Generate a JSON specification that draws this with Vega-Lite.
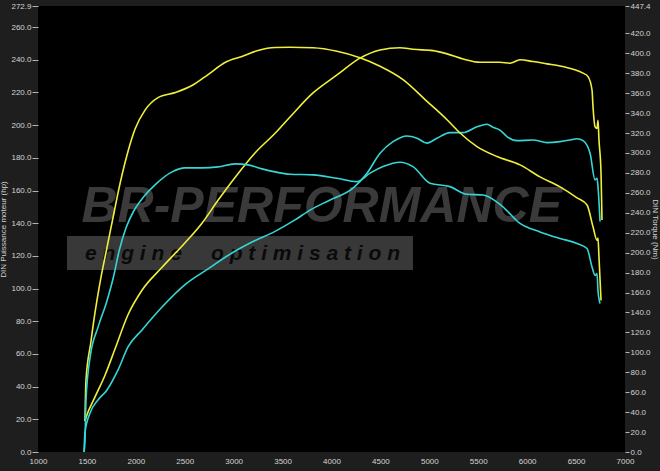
{
  "$schema": "https://vega.github.io/schema/vega-lite/v6.json",
  "width": 587,
  "height": 446,
  "autosize": {"type": "none"},
  "padding": {"left": 38, "top": 6, "right": 35, "bottom": 19},
  "background": "#1e1e1e",
  "config": {
    "view": {"fill": "#000000", "stroke": null},
    "font": "Liberation Sans",
    "axis": {
      "labelColor": "#d4d4d4",
      "titleColor": "#d4d4d4",
      "labelFontSize": 8,
      "titleFontSize": 8,
      "titleFontWeight": "normal",
      "gridColor": "#8a8a8a",
      "gridOpacity": 1,
      "gridWidth": 1,
      "tickColor": "#b4b4b4",
      "domain": false,
      "labelOverlap": false
    }
  },
  "datasets": {
    "power": [
      {"rpm": 1480, "hp": 19, "run": "Stage"},
      {"rpm": 1490, "hp": 21, "run": "Stage"},
      {"rpm": 1583, "hp": 33.7, "run": "Stage"},
      {"rpm": 1685, "hp": 47, "run": "Stage"},
      {"rpm": 1787, "hp": 63, "run": "Stage"},
      {"rpm": 1920, "hp": 84, "run": "Stage"},
      {"rpm": 2063, "hp": 99, "run": "Stage"},
      {"rpm": 2268, "hp": 113, "run": "Stage"},
      {"rpm": 2503, "hp": 128, "run": "Stage"},
      {"rpm": 2676, "hp": 140, "run": "Stage"},
      {"rpm": 2840, "hp": 154, "run": "Stage"},
      {"rpm": 3014, "hp": 168, "run": "Stage"},
      {"rpm": 3218, "hp": 183, "run": "Stage"},
      {"rpm": 3423, "hp": 195, "run": "Stage"},
      {"rpm": 3576, "hp": 205, "run": "Stage"},
      {"rpm": 3811, "hp": 219.7, "run": "Stage"},
      {"rpm": 4056, "hp": 230.7, "run": "Stage"},
      {"rpm": 4291, "hp": 241, "run": "Stage"},
      {"rpm": 4496, "hp": 246, "run": "Stage"},
      {"rpm": 4700, "hp": 247.4, "run": "Stage"},
      {"rpm": 4833, "hp": 246.4, "run": "Stage"},
      {"rpm": 5038, "hp": 245.6, "run": "Stage"},
      {"rpm": 5181, "hp": 243.6, "run": "Stage"},
      {"rpm": 5344, "hp": 240.5, "run": "Stage"},
      {"rpm": 5518, "hp": 238.5, "run": "Stage"},
      {"rpm": 5722, "hp": 238.5, "run": "Stage"},
      {"rpm": 5825, "hp": 237.9, "run": "Stage"},
      {"rpm": 5927, "hp": 240, "run": "Stage"},
      {"rpm": 6060, "hp": 238.9, "run": "Stage"},
      {"rpm": 6203, "hp": 237.5, "run": "Stage"},
      {"rpm": 6336, "hp": 236.2, "run": "Stage"},
      {"rpm": 6469, "hp": 234.2, "run": "Stage"},
      {"rpm": 6571, "hp": 231.8, "run": "Stage"},
      {"rpm": 6622, "hp": 229.7, "run": "Stage"},
      {"rpm": 6663, "hp": 221.5, "run": "Stage"},
      {"rpm": 6673, "hp": 211.3, "run": "Stage"},
      {"rpm": 6694, "hp": 199, "run": "Stage"},
      {"rpm": 6714, "hp": 198, "run": "Stage"},
      {"rpm": 6724, "hp": 203, "run": "Stage"},
      {"rpm": 6734, "hp": 191, "run": "Stage"},
      {"rpm": 6755, "hp": 170.7, "run": "Stage"},
      {"rpm": 6765, "hp": 142, "run": "Stage"},
      {"rpm": 1470, "hp": 0, "run": "Stock"},
      {"rpm": 1480, "hp": 12, "run": "Stock"},
      {"rpm": 1532, "hp": 23.9, "run": "Stock"},
      {"rpm": 1613, "hp": 31.8, "run": "Stock"},
      {"rpm": 1700, "hp": 37.5, "run": "Stock"},
      {"rpm": 1818, "hp": 50.2, "run": "Stock"},
      {"rpm": 1920, "hp": 64.3, "run": "Stock"},
      {"rpm": 2063, "hp": 74.7, "run": "Stock"},
      {"rpm": 2268, "hp": 88.7, "run": "Stock"},
      {"rpm": 2503, "hp": 102.4, "run": "Stock"},
      {"rpm": 2738, "hp": 112, "run": "Stock"},
      {"rpm": 2983, "hp": 121.8, "run": "Stock"},
      {"rpm": 3188, "hp": 128.5, "run": "Stock"},
      {"rpm": 3423, "hp": 135, "run": "Stock"},
      {"rpm": 3627, "hp": 142, "run": "Stock"},
      {"rpm": 3780, "hp": 148, "run": "Stock"},
      {"rpm": 3985, "hp": 154.2, "run": "Stock"},
      {"rpm": 4220, "hp": 161.4, "run": "Stock"},
      {"rpm": 4363, "hp": 170.6, "run": "Stock"},
      {"rpm": 4496, "hp": 182.8, "run": "Stock"},
      {"rpm": 4629, "hp": 189.9, "run": "Stock"},
      {"rpm": 4772, "hp": 193.4, "run": "Stock"},
      {"rpm": 4874, "hp": 192, "run": "Stock"},
      {"rpm": 4976, "hp": 189, "run": "Stock"},
      {"rpm": 5078, "hp": 192, "run": "Stock"},
      {"rpm": 5211, "hp": 195.4, "run": "Stock"},
      {"rpm": 5344, "hp": 195.4, "run": "Stock"},
      {"rpm": 5487, "hp": 199, "run": "Stock"},
      {"rpm": 5590, "hp": 200.5, "run": "Stock"},
      {"rpm": 5651, "hp": 198.7, "run": "Stock"},
      {"rpm": 5722, "hp": 197, "run": "Stock"},
      {"rpm": 5794, "hp": 193, "run": "Stock"},
      {"rpm": 5896, "hp": 190.5, "run": "Stock"},
      {"rpm": 6060, "hp": 190.9, "run": "Stock"},
      {"rpm": 6203, "hp": 189.3, "run": "Stock"},
      {"rpm": 6336, "hp": 189.9, "run": "Stock"},
      {"rpm": 6438, "hp": 190.9, "run": "Stock"},
      {"rpm": 6510, "hp": 191.7, "run": "Stock"},
      {"rpm": 6571, "hp": 190.5, "run": "Stock"},
      {"rpm": 6643, "hp": 182.8, "run": "Stock"},
      {"rpm": 6694, "hp": 166.5, "run": "Stock"},
      {"rpm": 6714, "hp": 167.5, "run": "Stock"},
      {"rpm": 6724, "hp": 162.4, "run": "Stock"},
      {"rpm": 6745, "hp": 141, "run": "Stock"}
    ],
    "torque": [
      {"rpm": 1480, "nm": 31, "run": "Stage"},
      {"rpm": 1490, "nm": 71.5, "run": "Stage"},
      {"rpm": 1540, "nm": 110, "run": "Stage"},
      {"rpm": 1583, "nm": 140, "run": "Stage"},
      {"rpm": 1634, "nm": 170, "run": "Stage"},
      {"rpm": 1705, "nm": 205, "run": "Stage"},
      {"rpm": 1777, "nm": 240, "run": "Stage"},
      {"rpm": 1818, "nm": 260, "run": "Stage"},
      {"rpm": 1910, "nm": 298, "run": "Stage"},
      {"rpm": 1992, "nm": 324, "run": "Stage"},
      {"rpm": 2094, "nm": 343, "run": "Stage"},
      {"rpm": 2227, "nm": 355.5, "run": "Stage"},
      {"rpm": 2400, "nm": 360.5, "run": "Stage"},
      {"rpm": 2574, "nm": 367.6, "run": "Stage"},
      {"rpm": 2738, "nm": 378.6, "run": "Stage"},
      {"rpm": 2911, "nm": 390.7, "run": "Stage"},
      {"rpm": 3085, "nm": 396.8, "run": "Stage"},
      {"rpm": 3249, "nm": 402.8, "run": "Stage"},
      {"rpm": 3423, "nm": 405.8, "run": "Stage"},
      {"rpm": 3576, "nm": 406, "run": "Stage"},
      {"rpm": 3811, "nm": 405.5, "run": "Stage"},
      {"rpm": 4056, "nm": 402, "run": "Stage"},
      {"rpm": 4291, "nm": 395.5, "run": "Stage"},
      {"rpm": 4496, "nm": 387, "run": "Stage"},
      {"rpm": 4731, "nm": 373.6, "run": "Stage"},
      {"rpm": 4976, "nm": 351.8, "run": "Stage"},
      {"rpm": 5181, "nm": 333.3, "run": "Stage"},
      {"rpm": 5314, "nm": 320, "run": "Stage"},
      {"rpm": 5487, "nm": 306.4, "run": "Stage"},
      {"rpm": 5692, "nm": 296.4, "run": "Stage"},
      {"rpm": 5927, "nm": 288, "run": "Stage"},
      {"rpm": 6131, "nm": 276, "run": "Stage"},
      {"rpm": 6336, "nm": 266, "run": "Stage"},
      {"rpm": 6510, "nm": 255, "run": "Stage"},
      {"rpm": 6612, "nm": 247.7, "run": "Stage"},
      {"rpm": 6673, "nm": 226, "run": "Stage"},
      {"rpm": 6714, "nm": 212.5, "run": "Stage"},
      {"rpm": 6724, "nm": 214.5, "run": "Stage"},
      {"rpm": 6734, "nm": 195.7, "run": "Stage"},
      {"rpm": 6755, "nm": 152, "run": "Stage"},
      {"rpm": 1470, "nm": 0, "run": "Stock"},
      {"rpm": 1480, "nm": 10, "run": "Stock"},
      {"rpm": 1490, "nm": 51, "run": "Stock"},
      {"rpm": 1532, "nm": 94.7, "run": "Stock"},
      {"rpm": 1613, "nm": 125, "run": "Stock"},
      {"rpm": 1700, "nm": 150, "run": "Stock"},
      {"rpm": 1770, "nm": 175, "run": "Stock"},
      {"rpm": 1830, "nm": 202, "run": "Stock"},
      {"rpm": 1900, "nm": 225, "run": "Stock"},
      {"rpm": 1980, "nm": 242, "run": "Stock"},
      {"rpm": 2080, "nm": 256, "run": "Stock"},
      {"rpm": 2196, "nm": 268, "run": "Stock"},
      {"rpm": 2370, "nm": 281, "run": "Stock"},
      {"rpm": 2503, "nm": 285, "run": "Stock"},
      {"rpm": 2676, "nm": 285, "run": "Stock"},
      {"rpm": 2840, "nm": 286, "run": "Stock"},
      {"rpm": 3014, "nm": 289, "run": "Stock"},
      {"rpm": 3147, "nm": 288, "run": "Stock"},
      {"rpm": 3290, "nm": 284, "run": "Stock"},
      {"rpm": 3423, "nm": 281, "run": "Stock"},
      {"rpm": 3576, "nm": 278.6, "run": "Stock"},
      {"rpm": 3811, "nm": 278, "run": "Stock"},
      {"rpm": 4056, "nm": 274.6, "run": "Stock"},
      {"rpm": 4261, "nm": 271.2, "run": "Stock"},
      {"rpm": 4394, "nm": 279.7, "run": "Stock"},
      {"rpm": 4527, "nm": 286.3, "run": "Stock"},
      {"rpm": 4700, "nm": 290.7, "run": "Stock"},
      {"rpm": 4833, "nm": 286.3, "run": "Stock"},
      {"rpm": 5007, "nm": 269.6, "run": "Stock"},
      {"rpm": 5211, "nm": 266.2, "run": "Stock"},
      {"rpm": 5385, "nm": 258.5, "run": "Stock"},
      {"rpm": 5549, "nm": 257.8, "run": "Stock"},
      {"rpm": 5740, "nm": 247, "run": "Stock"},
      {"rpm": 5927, "nm": 229.3, "run": "Stock"},
      {"rpm": 6131, "nm": 220.8, "run": "Stock"},
      {"rpm": 6336, "nm": 214.2, "run": "Stock"},
      {"rpm": 6510, "nm": 209.2, "run": "Stock"},
      {"rpm": 6612, "nm": 204.1, "run": "Stock"},
      {"rpm": 6663, "nm": 185.6, "run": "Stock"},
      {"rpm": 6694, "nm": 177.2, "run": "Stock"},
      {"rpm": 6714, "nm": 179, "run": "Stock"},
      {"rpm": 6724, "nm": 162, "run": "Stock"},
      {"rpm": 6745, "nm": 149, "run": "Stock"}
    ]
  },
  "layer": [
    {
      "layer": [
        {
          "data": {"values": [{"label": "band"}]},
          "mark": {"type": "rect", "color": "#383838"},
          "encoding": {
            "x": {"datum": 1296, "type": "quantitative", "scale": {"domain": [1000, 7000], "nice": false, "zero": false}, "axis": {"values": [1000, 1500, 2000, 2500, 3000, 3500, 4000, 4500, 5000, 5500, 6000, 6500, 7000], "format": "d", "title": null, "ticks": false, "labelPadding": 5, "labelFlush": false}},
            "x2": {"datum": 4833},
            "y": {"datum": 111.4, "type": "quantitative", "scale": {"domain": [0, 272.9], "nice": false, "zero": false}, "axis": {"values": [0, 20, 40, 60, 80, 100, 120, 140, 160, 180, 200, 220, 240, 260, 272.9], "format": ".1f", "title": "DIN Puissance moteur (hp)", "tickSize": 6, "labelPadding": 1, "titlePadding": 3}},
            "y2": {"datum": 132.2}
          }
        },
        {
          "data": {"values": [{"label": "BR-PERFORMANCE"}]},
          "mark": {"type": "text", "color": "#3a3a3a", "fontSize": 50, "fontWeight": "bold", "fontStyle": "italic", "align": "center", "baseline": "middle", "font": "Liberation Sans"},
          "encoding": {
            "x": {"datum": 3900, "type": "quantitative", "scale": {"domain": [1000, 7000], "nice": false, "zero": false}, "axis": {"values": [1000, 1500, 2000, 2500, 3000, 3500, 4000, 4500, 5000, 5500, 6000, 6500, 7000], "format": "d", "title": null, "ticks": false, "labelPadding": 5, "labelFlush": false}},
            "y": {"datum": 150, "type": "quantitative", "scale": {"domain": [0, 272.9], "nice": false, "zero": false}, "axis": {"values": [0, 20, 40, 60, 80, 100, 120, 140, 160, 180, 200, 220, 240, 260, 272.9], "format": ".1f", "title": "DIN Puissance moteur (hp)", "tickSize": 6, "labelPadding": 1, "titlePadding": 3}},
            "text": {"field": "label"}
          }
        },
        {
          "data": {"values": [{"label": "e n g i n e \u00a0 \u00a0 o p t i m i s a t i o n"}]},
          "mark": {"type": "text", "color": "#0a0a0a", "fontSize": 21, "fontWeight": "bold", "fontStyle": "italic", "align": "left", "baseline": "middle", "font": "Liberation Sans"},
          "encoding": {
            "x": {"datum": 1480, "type": "quantitative", "scale": {"domain": [1000, 7000], "nice": false, "zero": false}, "axis": {"values": [1000, 1500, 2000, 2500, 3000, 3500, 4000, 4500, 5000, 5500, 6000, 6500, 7000], "format": "d", "title": null, "ticks": false, "labelPadding": 5, "labelFlush": false}},
            "y": {"datum": 121.2, "type": "quantitative", "scale": {"domain": [0, 272.9], "nice": false, "zero": false}, "axis": {"values": [0, 20, 40, 60, 80, 100, 120, 140, 160, 180, 200, 220, 240, 260, 272.9], "format": ".1f", "title": "DIN Puissance moteur (hp)", "tickSize": 6, "labelPadding": 1, "titlePadding": 3}},
            "text": {"field": "label"}
          }
        },
        {
          "data": {"name": "power"},
          "mark": {"type": "line", "strokeWidth": 1.6, "interpolate": "monotone"},
          "encoding": {
            "x": {"field": "rpm", "type": "quantitative", "scale": {"domain": [1000, 7000], "nice": false, "zero": false}, "axis": {"values": [1000, 1500, 2000, 2500, 3000, 3500, 4000, 4500, 5000, 5500, 6000, 6500, 7000], "format": "d", "title": null, "ticks": false, "labelPadding": 5, "labelFlush": false}},
            "y": {"field": "hp", "type": "quantitative", "scale": {"domain": [0, 272.9], "nice": false, "zero": false}, "axis": {"values": [0, 20, 40, 60, 80, 100, 120, 140, 160, 180, 200, 220, 240, 260, 272.9], "format": ".1f", "title": "DIN Puissance moteur (hp)", "tickSize": 6, "labelPadding": 1, "titlePadding": 3}},
            "color": {"field": "run", "type": "nominal", "scale": {"domain": ["Stage", "Stock"], "range": ["#f0f03a", "#36d6d6"]}, "legend": null}
          }
        }
      ]
    },
    {
      "data": {"name": "torque"},
      "mark": {"type": "line", "strokeWidth": 1.6, "interpolate": "monotone"},
      "encoding": {
        "x": {"field": "rpm", "type": "quantitative", "scale": {"domain": [1000, 7000], "nice": false, "zero": false}, "axis": {"values": [1000, 1500, 2000, 2500, 3000, 3500, 4000, 4500, 5000, 5500, 6000, 6500, 7000], "format": "d", "title": null, "ticks": false, "labelPadding": 5, "labelFlush": false}},
        "y": {"field": "nm", "type": "quantitative", "scale": {"domain": [0, 447.4], "nice": false, "zero": false}, "axis": {"orient": "right", "values": [0, 20, 40, 60, 80, 100, 120, 140, 160, 180, 200, 220, 240, 260, 280, 300, 320, 340, 360, 380, 400, 420, 447.4], "format": ".1f", "title": "DIN Torque (Nm)", "grid": false, "tickSize": 4, "labelPadding": 1, "titlePadding": 0}},
        "color": {"field": "run", "type": "nominal", "scale": {"domain": ["Stage", "Stock"], "range": ["#f0f03a", "#36d6d6"]}, "legend": null}
      }
    }
  ],
  "resolve": {"scale": {"y": "independent"}}
}
